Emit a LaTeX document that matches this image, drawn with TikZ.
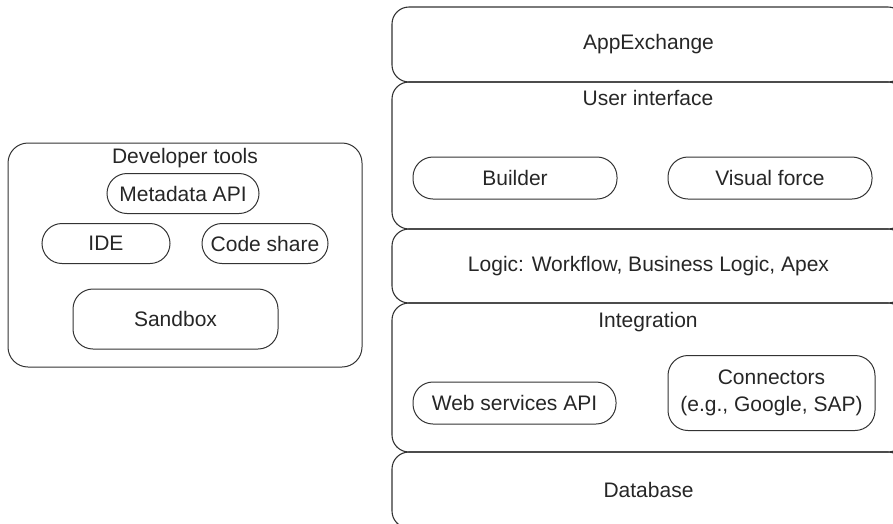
\documentclass[tikz,border=0pt]{standalone}
\usepackage{fontspec}
\setmainfont{Liberation Sans}
\usepackage{tikz}
\usetikzlibrary{positioning}

\begin{document}
\begin{tikzpicture}[x=1pt, y=-1pt,
    every node/.style={font=\fontsize{21}{24}\selectfont, text=black!85},
    layer/.style={draw=black!80, line width=1.1pt, rounded corners=17pt, minimum width=513pt},
    pill/.style={draw=black!80, line width=1pt, rounded corners=20pt, minimum height=40pt},
    boxy/.style={draw=black!80, line width=1pt, rounded corners=20pt}]
  \useasboundingbox (0,0) rectangle (893,523);
  \clip (0,0) rectangle (893,523);
  % platform layers
  \node[layer, minimum height=75pt]  (app)   at (648.5, 44.5)  {AppExchange};
  \node[layer, minimum height=147pt] (ui)    at (648.5, 155.5) {};
  \node[layer, minimum height=74pt]  (logic) at (648.5, 266)   {Logic: Workflow, Business Logic, Apex};
  \node[layer, minimum height=149pt] (integ) at (648.5, 377.5) {};
  \node[layer, minimum height=76pt]  (db)    at (648.5, 490)   {Database};
  % layer titles
  \node (uiT)    at (648, 98)  {User interface};
  \node (integT) at (648, 322) {Integration};
  % user interface parts
  \node[pill, minimum width=204pt, minimum height=42pt] (builder) at (515, 178) {Builder};
  \node[pill, minimum width=204pt, minimum height=42pt] (visual)  at (770, 178) {Visual force};
  % integration parts
  \node[pill, minimum width=203pt, minimum height=42pt] (websvc) at (514.5, 403) {Web services API};
  \node[boxy, minimum width=207pt, minimum height=75pt, align=center, inner sep=0pt] (conn) at (771.5, 393)
    {Connectors\\[3pt](e.g., Google, SAP)};
  % developer tools
  \node[boxy, minimum width=354pt, minimum height=224pt] (dev) at (185, 255) {};
  \node (devT) at (185, 158) {Developer tools};
  \node[pill, minimum width=152pt] (meta) at (183, 193.5) {Metadata API};
  \node[pill, minimum width=128pt] (ide)  at (106, 243.5) {IDE};
  \node[pill, minimum width=126pt, inner sep=1pt] (code) at (265, 243.5) {Code share};
  \node[boxy, minimum width=205pt, minimum height=60pt] (sandbox) at (175.5, 319) {Sandbox};
\end{tikzpicture}
\end{document}
